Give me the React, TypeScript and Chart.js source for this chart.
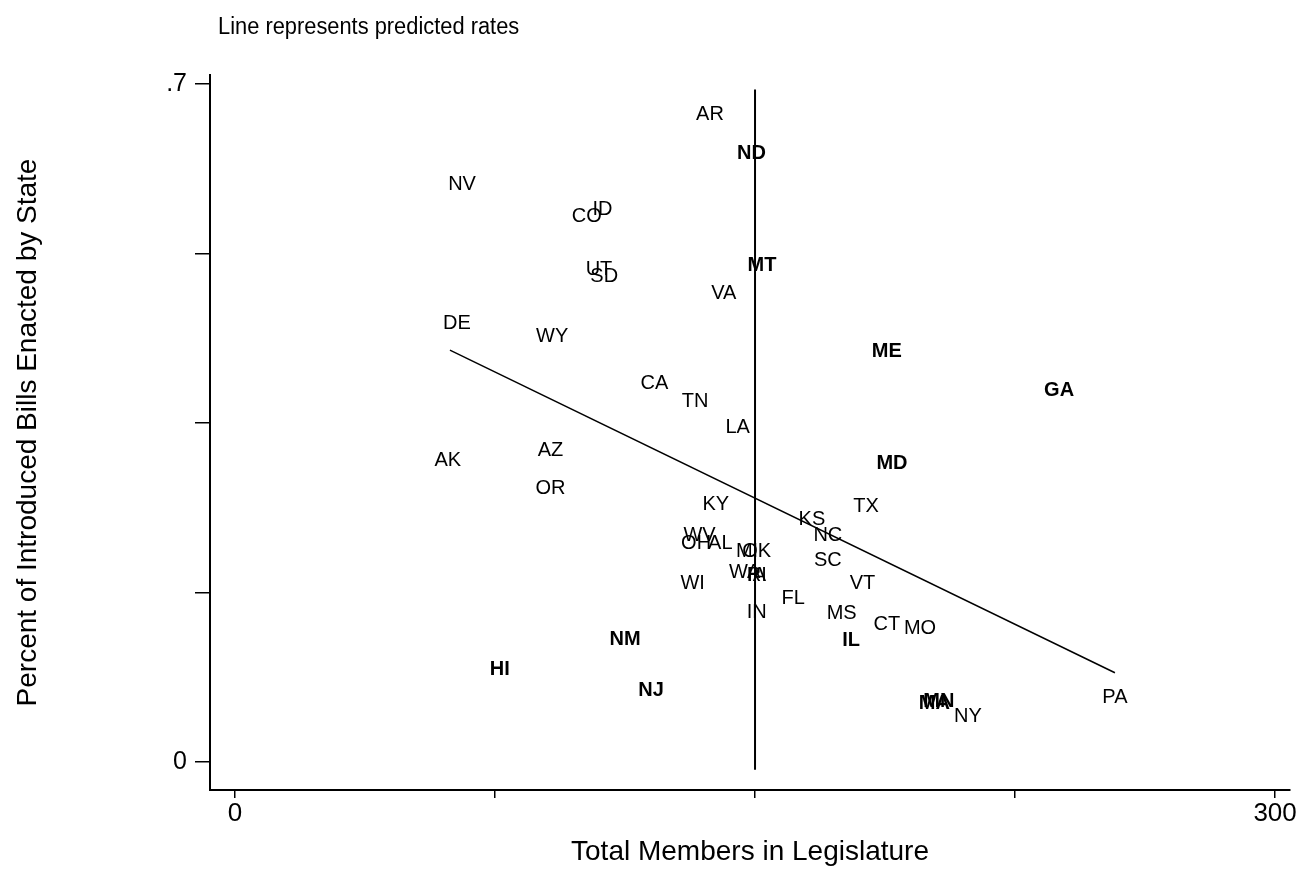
import React, { useEffect, useRef } from "react";
import { Chart, registerables } from "chart.js";

Chart.register(...registerables);

const states = [
  "AR", "ND", "NV", "CO", "ID", "UT", "SD", "MT", "VA", "DE",
  "WY", "ME", "GA", "CA", "TN", "LA", "AK", "AZ", "MD", "OR",
  "KY", "TX", "KS", "NC", "WV", "OH", "AL", "MI", "OK", "SC",
  "WA", "RI", "IA", "WI", "VT", "FL", "IN", "MS", "CT", "MO",
  "IL", "NM", "HI", "NJ", "MN", "MA", "NY", "PA",
];
const members = [
  137, 149, 65.5, 101.5, 106, 105, 106.5, 152, 141, 64,
  91.5, 188, 237.7, 121, 132.7, 145, 61.4, 91, 189.5, 91,
  138.7, 182, 166.4, 171, 134, 133, 140, 147.7, 150.5, 171,
  147, 150.5, 150.5, 132, 181, 161, 150.5, 175, 188, 197.6,
  177.7, 112.5, 76.4, 120, 203, 201.7, 211.4, 253.8,
];
const enacted = [
  0.668, 0.628, 0.596, 0.563, 0.57, 0.508, 0.501, 0.512, 0.483, 0.453,
  0.439, 0.424, 0.383, 0.391, 0.372, 0.345, 0.311, 0.321, 0.308, 0.282,
  0.266, 0.264, 0.25, 0.234, 0.234, 0.225, 0.225, 0.217, 0.217, 0.208,
  0.196, 0.192, 0.192, 0.184, 0.184, 0.169, 0.154, 0.153, 0.142, 0.138,
  0.125, 0.126, 0.095, 0.074, 0.062, 0.06, 0.047, 0.067,
];
// labels that print heavier in the original scan
const heavyLabels = ["ME", "GA", "MD", "NM", "NJ", "HI", "IL", "MT", "ND", "MN", "MA"];

const fitX = [62, 253.8];
const fitY = [0.425, 0.092];
const refLineX = [150, 150];
const refLineY = [-0.008, 0.694];

const xTickValues = [0, 75, 150, 225, 300];
const xTickLabels = ["0", "", "", "", "300"];
const yTickValues = [0, 0.175, 0.35, 0.525, 0.7];
const yTickLabels = ["0", "", "", "", ".7"];

const chartTitle = "Line represents predicted rates";
const xTitle = "Total Members in Legislature";
const yTitle = "Percent of Introduced Bills Enacted by State";

const FONT = "'Liberation Sans', Arial, Helvetica, sans-serif";

const labelPlugin = {
  id: "stateLabels",
  afterDatasetsDraw(chart: any) {
    const ctx = chart.ctx;
    const meta = chart.getDatasetMeta(0);
    ctx.save();
    ctx.fillStyle = "#000";
    ctx.textAlign = "center";
    ctx.textBaseline = "middle";
    meta.data.forEach((el: any, i: number) => {
      const heavy = heavyLabels.includes(states[i]);
      ctx.font = `${heavy ? "bold " : ""}20px ${FONT}`;
      ctx.fillText(states[i], el.x, el.y);
    });
    ctx.restore();
  },
};

const titlePlugin = {
  id: "topTitle",
  afterDraw(chart: any) {
    const ctx = chart.ctx;
    ctx.save();
    ctx.fillStyle = "#000";
    ctx.font = `23px ${FONT}`;
    ctx.textAlign = "left";
    ctx.textBaseline = "middle";
    ctx.translate(chart.chartArea.left + 8, 28);
    ctx.scale(0.95, 1);
    ctx.fillText(chartTitle, 0, 0);
    ctx.restore();
  },
};

export default function App() {
  const ref = useRef<HTMLCanvasElement | null>(null);

  useEffect(() => {
    document.body.style.margin = "0";
    const canvas = ref.current;
    if (!canvas) return;
    const chart = new Chart(canvas, {
      type: "scatter",
      data: {
        datasets: [
          {
            data: members.map((m, i) => ({ x: m, y: enacted[i] })),
            pointRadius: 0,
            pointHoverRadius: 0,
            showLine: false,
          },
          {
            data: fitX.map((x, i) => ({ x, y: fitY[i] })),
            showLine: true,
            borderColor: "#000",
            borderWidth: 1.5,
            pointRadius: 0,
            fill: false,
          },
          {
            data: refLineX.map((x, i) => ({ x, y: refLineY[i] })),
            showLine: true,
            borderColor: "#000",
            borderWidth: 2,
            pointRadius: 0,
            fill: false,
          },
        ],
      },
      options: {
        responsive: false,
        animation: false,
        layout: { padding: { left: 0, right: 20, top: 75, bottom: 0 } },
        plugins: {
          legend: { display: false },
          tooltip: { enabled: false },
          title: { display: false },
        },
        scales: {
          x: {
            type: "linear",
            min: -7.2,
            max: 304.3,
            afterFit: (s: any) => {
              s.height = 92;
            },
            afterBuildTicks: (s: any) => {
              s.ticks = xTickValues.map((v) => ({ value: v }));
            },
            ticks: {
              callback: (_v: any, i: number) => xTickLabels[i],
              color: "#000",
              font: { family: FONT, size: 26 },
              padding: 0,
              maxRotation: 0,
              autoSkip: false,
            },
            grid: {
              drawOnChartArea: false,
              drawTicks: true,
              tickLength: 8,
              color: "#000",
              lineWidth: 1.5,
            },
            border: { display: true, color: "#000", width: 2 },
            title: {
              display: true,
              text: xTitle,
              color: "#000",
              font: { family: FONT, size: 28 },
              padding: { top: 0, bottom: 13 },
            },
          },
          y: {
            type: "linear",
            min: -0.029,
            max: 0.709,
            afterFit: (s: any) => {
              s.width = 210;
            },
            afterBuildTicks: (s: any) => {
              s.ticks = yTickValues.map((v) => ({ value: v }));
            },
            ticks: {
              callback: (_v: any, i: number) => yTickLabels[i],
              color: "#000",
              font: { family: FONT, size: 25 },
              padding: 8,
              autoSkip: false,
            },
            grid: {
              drawOnChartArea: false,
              drawTicks: true,
              tickLength: 15,
              color: "#000",
              lineWidth: 1.5,
            },
            border: { display: true, color: "#000", width: 2 },
            title: {
              display: true,
              text: yTitle,
              color: "#000",
              font: { family: FONT, size: 28 },
              padding: { top: 11, bottom: 0 },
            },
          },
        },
      },
      plugins: [labelPlugin, titlePlugin],
    } as any);
    return () => chart.destroy();
  }, []);

  return (
    <div style={{ position: "absolute", left: 0, top: 0, background: "#fff" }}>
      <canvas ref={ref} width={1310} height={882} style={{ display: "block" }} />
    </div>
  );
}
